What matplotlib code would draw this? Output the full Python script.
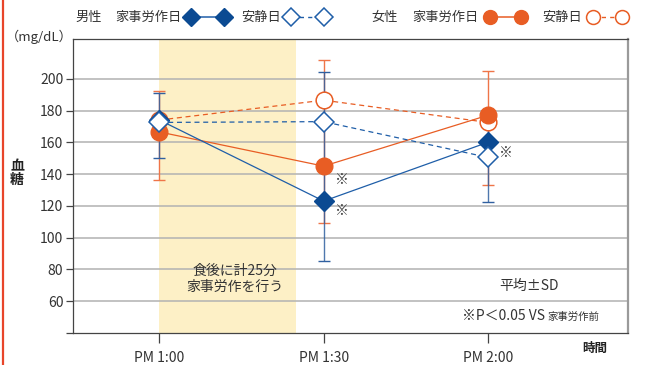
import matplotlib
matplotlib.use("Agg")
import matplotlib.pyplot as plt
from matplotlib.lines import Line2D

plt.rcParams['font.family'] = ['Noto Sans CJK JP', 'DejaVu Sans']

# data (mg/dL), minutes after PM 1:00
times = [0, 30, 60]
time_labels = ['PM 1:00', 'PM 1:30', 'PM 2:00']
male_work = [174, 123, 160]
male_rest = [172.5, 173, 150.5]
female_work = [166.5, 145, 177]
female_rest = [174, 186.5, 172.5]
# error bar ends (mean ± SD) as drawn
male_err_hi = [191, 204, 177.5]
male_err_lo = [150, 85, 122.5]
female_err_hi = [192, 212, 205]
female_err_lo = [136.5, 109.5, 133]
yticks = [60, 80, 100, 120, 140, 160, 180, 200]
work_span = (0, 25)

BLUE = '#0b4a92'
BLUE_L = '#1f5ea8'
ORANGE = '#e85d24'
ORANGE_L = '#ef7548'
TXT = '#333333'
FS = 10
LFS = 9.5

W, H = 648, 365
fig = plt.figure(figsize=(W / 100, H / 100), dpi=100)
ax = fig.add_axes([73 / W, 1 - 333 / H, (628 - 73) / W, (333 - 39) / H])

def fpx(x, y):
    return x / W, 1 - y / H

ax.axvspan(*work_span, color='#fdf0c6', lw=0, zorder=0)
for v in yticks:
    ax.axhline(v, color='#b2b2b2', lw=1.1, zorder=1)

# error bars
ax.vlines(times, female_err_lo, female_err_hi, color=ORANGE_L, lw=1.0, zorder=2)
ax.plot(times, female_err_hi, ls='none', marker='_', ms=8, mew=1.0, color=ORANGE_L, zorder=2)
ax.plot(times, female_err_lo, ls='none', marker='_', ms=8, mew=1.0, color=ORANGE_L, zorder=2)
ax.vlines(times, male_err_lo, male_err_hi, color='#3060a0', lw=1.0, alpha=0.85, zorder=3)
ax.plot(times, male_err_hi, ls='none', marker='_', ms=8, mew=1.0, color='#3060a0', zorder=3)
ax.plot(times, male_err_lo, ls='none', marker='_', ms=8, mew=1.0, color='#3060a0', zorder=3)

# series
ax.plot(times, female_rest, color=ORANGE, lw=0.9, dashes=(4, 3), marker='o', ms=12,
        mfc='white', mec=ORANGE, mew=1.1, zorder=4)
ax.plot(times, female_work, color=ORANGE, lw=0.9, marker='o', ms=12,
        mfc=ORANGE, mec=ORANGE, zorder=5)
ax.plot(times, male_work, color=BLUE_L, lw=0.9, marker='D', ms=10,
        mfc=BLUE, mec=BLUE, zorder=6)
ax.plot(times, male_rest, color=BLUE_L, lw=0.9, dashes=(4, 3), marker='D', ms=10,
        mfc='white', mec=BLUE_L, mew=1.1, zorder=7)

# significance marks
ax.text(times[1] + 3.4, female_work[1] - 9, '※', fontsize=10, ha='center', va='center', color='#444444')
ax.text(times[1] + 3.4, male_work[1] - 6.5, '※', fontsize=10, ha='center', va='center', color='#444444')
ax.text(times[2] + 3.3, male_rest[2] + 2.5, '※', fontsize=10, ha='center', va='center', color='#444444')

ax.text(13.8, 74, '食後に計25分\n家事労作を行う', fontsize=FS, ha='center', va='center',
        color=TXT, linespacing=1.25, zorder=8)
ax.text(67.5, 69.5, '平均±SD', fontsize=FS, ha='center', va='center', color=TXT)

ax.set_xlim(-15.8, 85.6)
ax.set_ylim(40, 225)
ax.set_xticks(times)
ax.set_xticklabels(time_labels)
ax.set_yticks([40] + yticks)
ax.set_yticklabels([''] + [str(v) for v in yticks])
ax.tick_params(axis='x', direction='out', length=7, width=0.9, colors='#444444', pad=6,
               labelsize=FS, labelcolor=TXT)
ax.tick_params(axis='y', direction='out', length=5, width=0.9, colors='#444444', pad=2,
               labelsize=FS, labelcolor=TXT)
for s in ['left', 'bottom', 'top']:
    ax.spines[s].set_color('#444444')
    ax.spines[s].set_linewidth(0.9)
ax.spines['right'].set_color('#9a9a9a')
ax.spines['right'].set_linewidth(1.6)

# axis texts
fig.text(*fpx(73, 37), '（mg/dL）', fontsize=9.5, ha='right', va='center', color=TXT)
fig.text(*fpx(17, 173), '血\n糖', fontsize=10, ha='center', va='center', color='#222222',
         fontweight='bold', linespacing=1.0)
fig.text(*fpx(607, 348), '時間', fontsize=9, ha='right', va='center', color='#222222',
         fontweight='bold')
fig.text(*fpx(545, 316), '※P＜0.05 VS', fontsize=FS, ha='right', va='center', color=TXT)
fig.text(*fpx(547, 316.5), '家事労作前', fontsize=7.5, ha='left', va='center', color=TXT)

# legend
legend_y = 17
fig.text(*fpx(75, legend_y), '男性', fontsize=LFS, va='center', color=TXT)
fig.text(*fpx(115, legend_y), '家事労作日', fontsize=LFS, va='center', color=TXT)
fig.add_artist(Line2D([191 / W, 224 / W], [1 - legend_y / H] * 2, color=BLUE_L, lw=1.1,
                      marker='D', ms=9, mfc=BLUE, mec=BLUE, transform=fig.transFigure))
fig.text(*fpx(241, legend_y), '安静日', fontsize=LFS, va='center', color=TXT)
fig.add_artist(Line2D([291 / W, 324 / W], [1 - legend_y / H] * 2, color=BLUE_L, lw=1.0,
                      dashes=(3, 3), marker='D', ms=9, mfc='white', mec=BLUE_L, mew=1.1,
                      transform=fig.transFigure))
fig.text(*fpx(371, legend_y), '女性', fontsize=LFS, va='center', color=TXT)
fig.text(*fpx(412, legend_y), '家事労作日', fontsize=LFS, va='center', color=TXT)
fig.add_artist(Line2D([490 / W, 521 / W], [1 - legend_y / H] * 2, color=ORANGE, lw=1.1,
                      marker='o', ms=10, mfc=ORANGE, mec=ORANGE, transform=fig.transFigure))
fig.text(*fpx(542, legend_y), '安静日', fontsize=LFS, va='center', color=TXT)
fig.add_artist(Line2D([593 / W, 622 / W], [1 - legend_y / H] * 2, color=ORANGE, lw=1.0,
                      dashes=(3, 3), marker='o', ms=10, mfc='white', mec=ORANGE, mew=1.1,
                      transform=fig.transFigure))

# page border line on the left
fig.add_artist(Line2D([3 / W, 3 / W], [0, 1], color='#e8452a', lw=1.6, transform=fig.transFigure))

fig.savefig('out.png', dpi=100)
